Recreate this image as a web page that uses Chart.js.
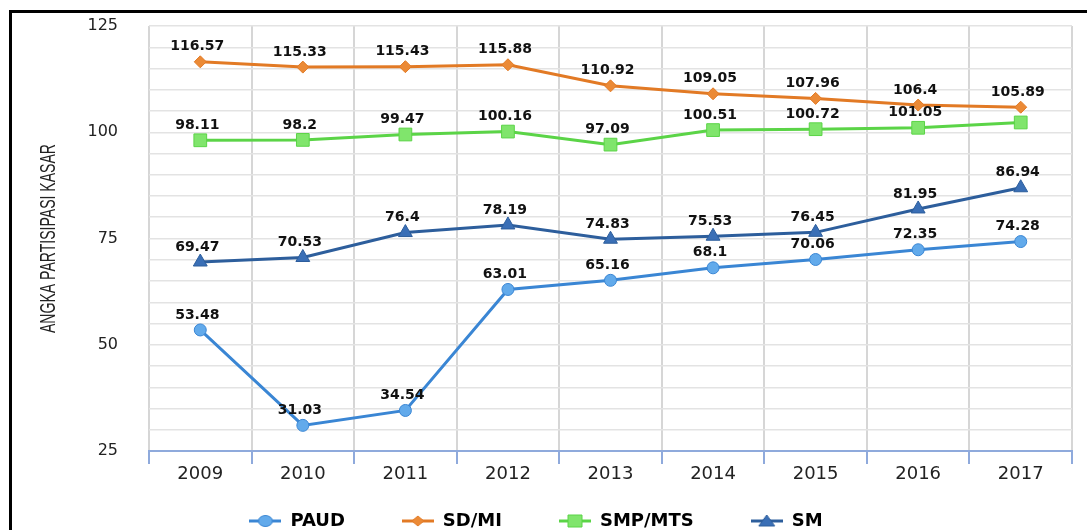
<!DOCTYPE html>
<html>
<head>
<meta charset="utf-8">
<script src="https://cdn.jsdelivr.net/npm/chart.js@4.4.0/dist/chart.umd.min.js"></script>
<style>
    html, body { margin: 0; padding: 0; background: #fff; }
    body { width: 1087px; height: 530px; overflow: hidden; position: relative; }
    .frame { position: absolute; left: 9px; top: 10px; width: 1200px; height: 700px; border-left: 3px solid #000; border-top: 3px solid #000; }
    .wrap { position: absolute; left: 0; top: 0; width: 1087px; height: 576px; }
</style>
</head>
<body>
<div class="frame"></div>
<div class="wrap"><canvas id="myChart"></canvas></div>
<script>
"use strict";

let years = ['2009', '2010', '2011', '2012', '2013', '2014', '2015', '2016', '2017'];
let paudValues = [53.48, 31.03, 34.54, 63.01, 65.16, 68.1, 70.06, 72.35, 74.28];
let sdValues = [116.57, 115.33, 115.43, 115.88, 110.92, 109.05, 107.96, 106.4, 105.89];
let smpValues = [98.11, 98.2, 99.47, 100.16, 97.09, 100.51, 100.72, 101.05, 102.3];
let smValues = [69.47, 70.53, 76.4, 78.19, 74.83, 75.53, 76.45, 81.95, 86.94];
// the last SMP/MTS point has no value printed on it
let smpUnlabelled = [8];
let yTicks = [25, 50, 75, 100, 125];
let yTitle = 'ANGKA PARTISIPASI KASAR';

const fontFamily = "'DejaVu Sans', 'Noto Sans', sans-serif";

// draws one marker shape, used for the legend icons
function drawMarker(ctx, shape, x, y, fill, stroke) {
    ctx.fillStyle = fill;
    ctx.strokeStyle = stroke;
    ctx.lineWidth = 1;
    ctx.beginPath();
    if (shape === 'circle') {
        ctx.ellipse(x, y, 7, 5.5, 0, 0, Math.PI * 2);
    } else if (shape === 'diamond') {
        ctx.moveTo(x - 6, y);
        ctx.lineTo(x, y - 5);
        ctx.lineTo(x + 6, y);
        ctx.lineTo(x, y + 5);
        ctx.closePath();
    } else if (shape === 'square') {
        ctx.rect(x - 7, y - 6, 14, 12);
    } else {
        ctx.moveTo(x - 8, y + 5);
        ctx.lineTo(x, y - 6);
        ctx.lineTo(x + 8, y + 5);
        ctx.closePath();
    }
    ctx.fill();
    ctx.stroke();
}

function makeLegendIcon(shape, line, fill) {
    let c = document.createElement('canvas');
    c.width = 32;
    c.height = 14;
    let ctx = c.getContext('2d');
    ctx.strokeStyle = line;
    ctx.lineWidth = 3;
    ctx.beginPath();
    ctx.moveTo(0, 7);
    ctx.lineTo(32, 7);
    ctx.stroke();
    drawMarker(ctx, shape, 16, 7, fill, line);
    return c;
}

let legendIcons = [
    makeLegendIcon('circle', '#3a86d4', '#62aaeb'),
    makeLegendIcon('diamond', '#e27a25', '#eb8a36'),
    makeLegendIcon('square', '#5bd447', '#80e56c'),
    makeLegendIcon('triangle', '#2d5e9c', '#3a6fb6')
];

// value labels above each point
const valueLabels = {
    id: 'valueLabels',
    afterDatasetsDraw(chart) {
        let ctx = chart.ctx;
        ctx.save();
        ctx.font = 'bold 14px ' + fontFamily;
        ctx.fillStyle = '#111';
        ctx.textAlign = 'center';
        ctx.textBaseline = 'middle';
        chart.data.datasets.forEach((ds, i) => {
            let meta = chart.getDatasetMeta(i);
            meta.data.forEach((pt, j) => {
                if (ds.skipLabels && ds.skipLabels.includes(j)) {
                    return;
                }
                ctx.fillText(String(ds.data[j]), pt.x - 3, pt.y - 15);
            });
        });
        ctx.restore();
    }
};

// narrow rotated axis title
const axisTitle = {
    id: 'axisTitle',
    afterDraw(chart) {
        let ctx = chart.ctx;
        let area = chart.chartArea;
        ctx.save();
        ctx.translate(49, (area.top + area.bottom) / 2);
        ctx.rotate(-Math.PI / 2);
        ctx.font = "22px 'Liberation Sans', sans-serif";
        ctx.fillStyle = '#222';
        ctx.textAlign = 'center';
        ctx.textBaseline = 'middle';
        ctx.fillText(yTitle, 0, 0, 189);
        ctx.restore();
    }
};

// pull the legend up close under the year labels
const legendShift = {
    id: 'legendShift',
    afterLayout(chart) {
        chart.legend.top -= 36;
        chart.legend.bottom -= 36;
    }
};

function makeDataset(label, data, line, fill, style, radius) {
    return {
        label: label,
        data: data,
        borderColor: line,
        backgroundColor: fill,
        borderWidth: 3,
        pointStyle: style,
        pointRadius: radius,
        pointHoverRadius: radius,
        pointBackgroundColor: fill,
        pointBorderColor: line,
        pointBorderWidth: 1,
        tension: 0
    };
}

let paudSet = makeDataset('PAUD', paudValues, '#3a86d4', '#62aaeb', 'circle', 6);
let sdSet = makeDataset('SD/MI', sdValues, '#e27a25', '#eb8a36', 'rectRot', 6);
let smpSet = makeDataset('SMP/MTS', smpValues, '#5bd447', '#80e56c', 'rect', 9);
smpSet.skipLabels = smpUnlabelled;
let smSet = makeDataset('SM', smValues, '#2d5e9c', '#3a6fb6', 'triangle', 8);

const config = {
    type: 'line',
    data: {
        labels: years,
        datasets: [paudSet, sdSet, smpSet, smSet]
    },
    options: {
        responsive: true,
        maintainAspectRatio: false,
        animation: false,
        layout: {
            padding: { left: 0, right: 15, top: 26, bottom: 0 }
        },
        plugins: {
            tooltip: { enabled: false },
            legend: {
                position: 'bottom',
                labels: {
                    usePointStyle: true,
                    pointStyleWidth: 32,
                    padding: 57,
                    color: '#000',
                    font: { family: fontFamily, size: 18, weight: 'bold' },
                    generateLabels(chart) {
                        let items = Chart.defaults.plugins.legend.labels.generateLabels(chart);
                        items.forEach((item, i) => {
                            item.pointStyle = legendIcons[i];
                        });
                        return items;
                    }
                }
            }
        },
        scales: {
            x: {
                offset: true,
                grid: {
                    offset: true,
                    color: '#d6d6d6',
                    lineWidth: 2,
                    tickColor: '#8faadc',
                    tickLength: 13,
                    tickWidth: 2
                },
                border: { color: '#8faadc', width: 2 },
                ticks: {
                    color: '#222',
                    padding: 0,
                    font: { family: fontFamily, size: 18 }
                },
                afterFit(scale) {
                    scale.height = 40;
                }
            },
            y: {
                min: yTicks[0],
                max: yTicks[yTicks.length - 1],
                ticks: {
                    stepSize: 5,
                    autoSkip: false,
                    padding: 0,
                    color: '#222',
                    font: { family: fontFamily, size: 16 },
                    callback: (v) => yTicks.includes(v) ? v : ''
                },
                // invisible tick marks make the gap between labels and plot
                grid: { color: '#e3e3e3', lineWidth: 1.5, drawTicks: true, tickLength: 31, tickColor: 'rgba(0,0,0,0)' },
                border: { display: false },
                afterFit(scale) {
                    scale.width = 149;
                }
            }
        }
    },
    plugins: [valueLabels, axisTitle, legendShift]
};

const myChart = new Chart(document.getElementById('myChart'), config);
</script>
</body>
</html>
